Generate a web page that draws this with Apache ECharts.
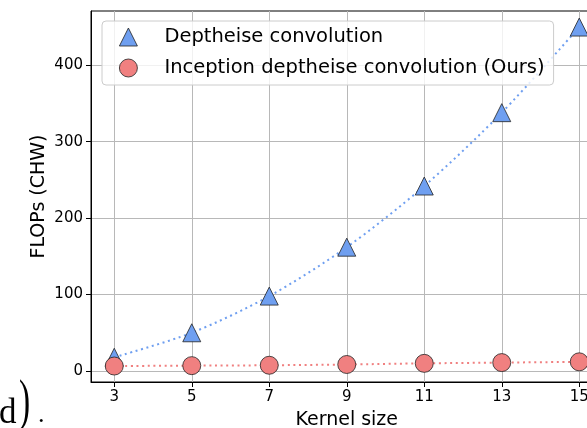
<!DOCTYPE html>
<html>
<head>
<meta charset="utf-8">
<script src="https://cdn.jsdelivr.net/npm/echarts@6/dist/echarts.min.js"></script>
<style>
html,body{margin:0;padding:0;background:#fff;}
#chart{width:587px;height:428px;}
</style>
</head>
<body>
<div id="chart"></div>
<script>
const kernelSizes = [3, 5, 7, 9, 11, 13, 15];
const depthwiseFlops = [18, 50, 98, 162, 242, 338, 450];
const inceptionFlops = [6.5, 7, 7.5, 8.5, 10, 11, 12];
const xTicks = [3, 5, 7, 9, 11, 13, 15];
const yTicks = [0, 100, 200, 300, 400];
const seriesNames = ['Deptheise convolution', 'Inception deptheise convolution (Ours)'];

const FONT = 'DejaVu Sans';
const chart = echarts.init(document.getElementById('chart'), null, {renderer: 'canvas'});

const pair = (xs, ys) => xs.map((x, i) => [x, ys[i]]);

chart.setOption({
  animation: false,
  backgroundColor: '#fff',
  textStyle: {fontFamily: FONT},
  grid: {left: 91, top: 11, width: 511.5, height: 371, outerBoundsMode: 'none', show: true, borderColor: '#000', borderWidth: 1, backgroundColor: 'transparent', containLabel: false},
  xAxis: {
    type: 'value', min: 2.4, max: 15.6,
    name: 'Kernel size', nameLocation: 'middle', nameGap: 29, nameMoveOverlap: false,
    nameTextStyle: {fontSize: 19, color: '#000', fontFamily: FONT},
    axisLine: {show: true, onZero: false, lineStyle: {color: '#000', width: 1}},
    axisTick: {show: true, length: 5, customValues: xTicks, lineStyle: {color: '#000', width: 1}},
    axisLabel: {customValues: xTicks, fontSize: 15, color: '#000', margin: 8, fontFamily: FONT},
    splitLine: {show: true, lineStyle: {color: '#b8b8b8', width: 1}}
  },
  yAxis: {
    type: 'value', min: -14.4, max: 471,
    name: 'FLOPs (CHW)', nameLocation: 'middle', nameGap: 42, nameMoveOverlap: false,
    nameTextStyle: {fontSize: 19, color: '#000', fontFamily: FONT},
    axisLine: {show: true, onZero: false, lineStyle: {color: '#000', width: 1}},
    axisTick: {show: true, length: 5, customValues: yTicks, lineStyle: {color: '#000', width: 1}},
    axisLabel: {customValues: yTicks, fontSize: 15, color: '#000', margin: 8, fontFamily: FONT},
    splitLine: {show: true, lineStyle: {color: '#b8b8b8', width: 1}}
  },
  legend: {
    orient: 'vertical', left: 102, top: 21,
    padding: [6, 9, 7, 17],
    itemGap: 11, itemWidth: 18, itemHeight: 18,
    backgroundColor: 'rgba(255,255,255,0.8)', borderColor: '#cccccc', borderWidth: 1, borderRadius: 4,
    selectedMode: false,
    textStyle: {fontSize: 19.5, lineHeight: 18, color: '#000', fontFamily: FONT, padding: [0, 0, 0, 22]},
    data: [
      {name: seriesNames[0], icon: 'triangle', itemStyle: {borderWidth: 0.8}},
      {name: seriesNames[1], icon: 'circle', itemStyle: {borderWidth: 0.8}}
    ]
  },
  series: [
    {
      name: seriesNames[0], type: 'line', data: pair(kernelSizes, depthwiseFlops),
      smooth: 0.3,
      symbol: 'triangle', symbolSize: 18,
      lineStyle: {color: '#6f9ff0', width: 2, type: [2, 3.6]},
      itemStyle: {color: '#6f9ff0', borderColor: '#222', borderWidth: 0.8},
      emphasis: {disabled: true}, z: 2
    },
    {
      name: seriesNames[1], type: 'line', data: pair(kernelSizes, inceptionFlops),
      smooth: 0.3,
      symbol: 'circle', symbolSize: 18,
      lineStyle: {color: '#f08080', width: 2, type: [2, 3.6]},
      itemStyle: {color: '#f08080', borderColor: '#222', borderWidth: 0.8},
      emphasis: {disabled: true}, z: 3
    }
  ],
  graphic: [
    {type: 'text', left: -1, top: 396, style: {text: 'd', font: '35px "Liberation Serif"', fill: '#000'}},
    {type: 'text', left: 19, top: 376, scaleX: 0.6, style: {text: ')', font: '56px "Liberation Serif"', fill: '#000'}},
    {type: 'text', left: 38, top: 402, style: {text: '.', font: '26px "Liberation Serif"', fill: '#000'}}
  ]
});
</script>
</body>
</html>
